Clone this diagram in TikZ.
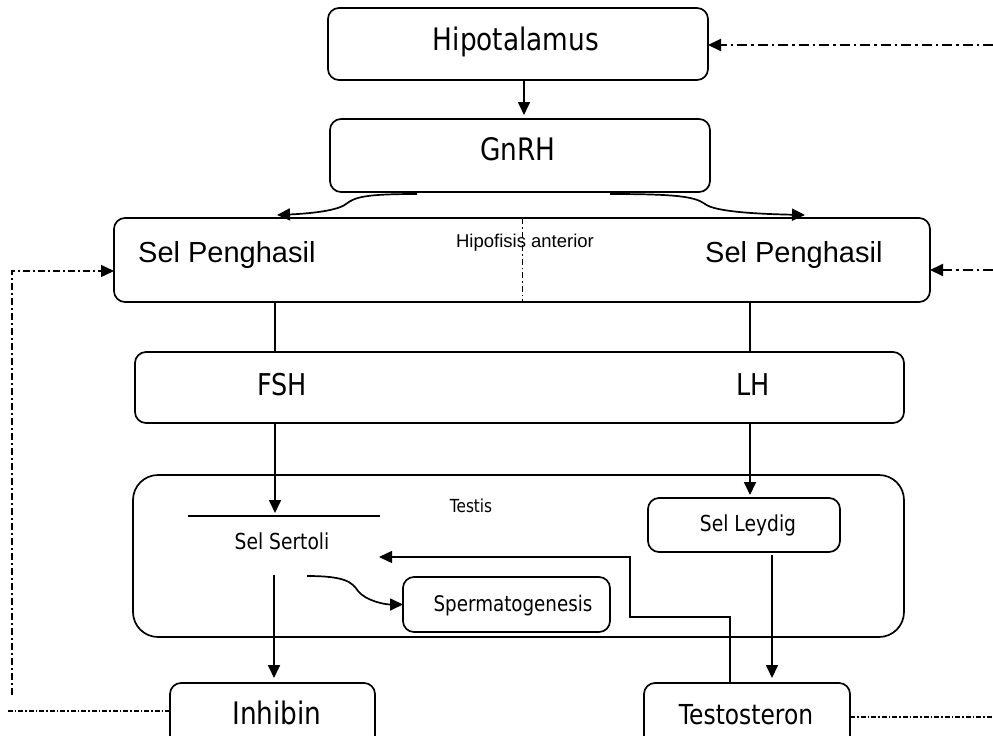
\documentclass[tikz,border=0pt]{standalone}
\usepackage{fontspec}
\setmainfont{Liberation Sans}
\newfontfamily\tah[FakeStretch=0.85]{DejaVu Sans}
\usetikzlibrary{arrows.meta}
\begin{document}
\begin{tikzpicture}[x=1pt,y=-1pt,
  box/.style={draw, line width=1.7pt, rounded corners=11pt, inner sep=0pt, outer sep=0pt},
  lbl/.style={inner sep=0pt, anchor=base, font=\tah\fontsize{#1}{#1}\selectfont},
  lbs/.style={inner sep=0pt, anchor=base, font=\fontsize{#1}{#1}\selectfont},
  tip/.style={-{Triangle[length=13pt,width=12pt]}},
  arr/.style={line width=1.7pt, tip},
  dd/.style={line width=2pt, dash pattern=on 10pt off 4pt on 2.5pt off 4pt},
  ddt/.style={line width=1.4pt, dash pattern=on 7pt off 3pt on 2pt off 3pt},
  ddb/.style={line width=1.4pt, dash pattern=on 5pt off 2pt on 1.5pt off 2pt},
]
\useasboundingbox (0,0) rectangle (993,736);
\clip (0,0) rectangle (993,736);

% boxes
\node[box, minimum width=380pt, minimum height=72pt] (hypo) at (518,44) {};
\node[box, minimum width=380pt, minimum height=73pt] (gnrh) at (520,155.5) {};
\node[box, minimum width=816pt, minimum height=84pt] (sp) at (522,260) {};
\node[box, minimum width=769pt, minimum height=71pt] (fshlh) at (519.5,387.5) {};
\node[box, rounded corners=25pt, minimum width=771pt, minimum height=162pt] (testis) at (518.5,556) {};
\node[box, minimum width=192pt, minimum height=54pt] (leydig) at (744,525) {};
\node[box, minimum width=207pt, minimum height=55pt] (sperm) at (506.5,604.5) {};
\node[box, minimum width=205pt, minimum height=87pt] (inhibin) at (272.5,726.5) {};
\node[box, minimum width=206pt, minimum height=87pt] (testo) at (747,726.5) {};

% labels
\node[lbl=31] (hypoT) at (516,50) {Hipotalamus};
\node[lbl=31] (gnrhT) at (518,160) {GnRH};
\node[lbs=29, anchor=base west] (spL) at (138,262) {Sel Penghasil};
\node[lbs=29, anchor=base west] (spR) at (705,262) {Sel Penghasil};
\node[lbs=18.5] (hipo) at (525,247) {Hipofisis anterior};
\node[lbl=30] (fshT) at (282,395) {FSH};
\node[lbl=30] (lhT) at (753,395) {LH};
\node[lbl=18] (testisT) at (471,512) {Testis};
\node[lbl=22] (sert) at (282,549) {Sel Sertoli};
\node[lbl=22] (leydigT) at (748,531) {Sel Leydig};
\node[lbl=21.5] (spermT) at (513,611) {Spermatogenesis};
\node[lbl=31] (inhibinT) at (277,724) {Inhibin};
\node[lbl=27.5] (testoT) at (746,724) {Testosteron};

% helper coordinates
\coordinate (xl) at (275,0);
\coordinate (xr) at (750,0);
\coordinate (xlt) at (772,0);
\coordinate (xfb) at (730,0);
\coordinate (sbarL) at (188,516);
\coordinate (sbarR) at (380,516);
\coordinate (sdn) at (274,575);
\coordinate (scs) at (307,576);
\coordinate (fbk) at (630,617);
\coordinate (stip) at (379,557);
\coordinate (rh) at (993,45);
\coordinate (rs) at (993,270);
\coordinate (lv) at (12,695);
\coordinate (ls) at (0,271);
\coordinate (lb) at (8,711);
\coordinate (rb) at (993,717);

% Sertoli bar
\draw[line width=1.7pt] (sbarL) -- (sbarR);

% divider in Sel Penghasil
\draw[line width=1pt, dash pattern=on 6pt off 3pt on 1.5pt off 3pt] (sp.north) -- (sp.south);

% connectors
\draw[arr] ([xshift=6pt]hypo.south) -- ([xshift=4pt,yshift=4pt]gnrh.north);
\draw[arr] ([xshift=-103pt,yshift=-2pt]gnrh.south) .. controls (365,194) and (355,197) .. (346,204)
   .. controls (336,212) and (300,214) .. ([xshift=-245pt,yshift=3pt]sp.north);
\draw[arr] ([xshift=90pt,yshift=-2pt]gnrh.south) .. controls (680,194) and (695,197) .. (705,204)
   .. controls (715,212) and (760,214) .. ([xshift=283pt,yshift=3pt]sp.north);
\draw[line width=1.7pt] (sp.south -| xl) -- (fshlh.north -| xl);
\draw[line width=1.7pt] (sp.south -| xr) -- (fshlh.north -| xr);
\draw[arr, shorten >=3pt] (fshlh.south -| xl) -- (sbarL -| xl);
\draw[arr, shorten >=3pt] (fshlh.south -| xr) -- (leydig.north -| xr);
\draw[arr, shorten >=5pt] (sdn) -- (inhibin.north -| sdn);
\draw[arr, shorten >=5pt, shorten <=3pt] (leydig.south -| xlt) -- (testo.north -| xlt);
\draw[arr] (scs) .. controls (345,576) and (352,582) .. (358,591)
   .. controls (366,601) and (385,604.5) .. (sperm.west);
\draw[arr, line width=1.4pt] (testo.north -| xfb) |- (fbk) |- (stip);

% feedback dash-dot lines
\draw[dd, tip] (rh) -- (hypo.east |- rh);
\draw[dd, tip] (rs) -- (sp.east |- rs);
\draw[ddt, tip] (lv) |- (sp.west |- ls);
\draw[ddb] (inhibin.west |- lb) -- (lb);
\draw[ddb] (testo.east |- rb) -- (rb);
\end{tikzpicture}
\end{document}
